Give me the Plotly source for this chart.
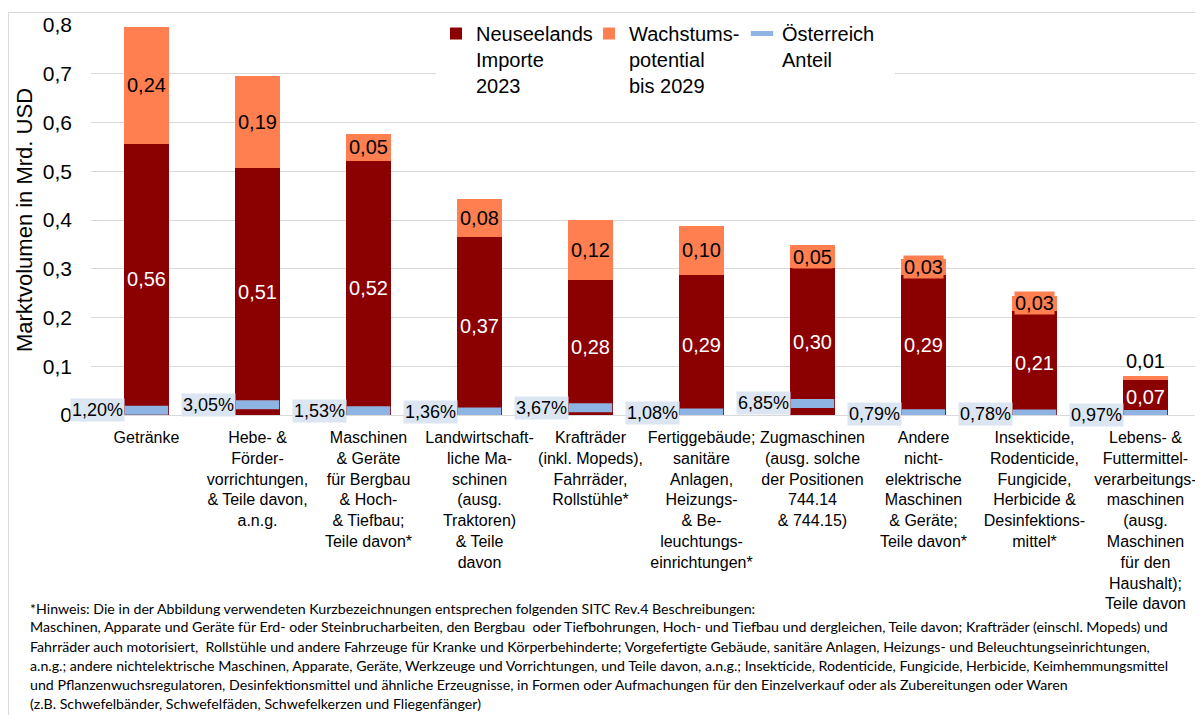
import plotly.graph_objects as go

categories = [
    "Getränke",
    "Hebe- &<br>Förder-<br>vorrichtungen,<br>& Teile davon,<br>a.n.g.",
    "Maschinen<br>& Geräte<br>für Bergbau<br>& Hoch-<br>& Tiefbau;<br>Teile davon*",
    "Landwirtschaft-<br>liche Ma-<br>schinen<br>(ausg.<br>Traktoren)<br>& Teile<br>davon",
    "Krafträder<br>(inkl. Mopeds),<br>Fahrräder,<br>Rollstühle*",
    "Fertiggebäude;<br>sanitäre<br>Anlagen,<br>Heizungs-<br>& Be-<br>leuchtungs-<br>einrichtungen*",
    "Zugmaschinen<br>(ausg. solche<br>der Positionen<br>744.14<br>& 744.15)",
    "Andere<br>nicht-<br>elektrische<br>Maschinen<br>& Geräte;<br>Teile davon*",
    "Insekticide,<br>Rodenticide,<br>Fungicide,<br>Herbicide &<br>Desinfektions-<br>mittel*",
    "Lebens- &<br>Futtermittel-<br>verarbeitungs-<br>maschinen<br>(ausg.<br>Maschinen<br>für den<br>Haushalt);<br>Teile davon",
]
imports_2023 = [0.556, 0.506, 0.522, 0.366, 0.277, 0.288, 0.301, 0.287, 0.214, 0.072]
growth_2029 = [0.240, 0.190, 0.054, 0.078, 0.122, 0.099, 0.047, 0.034, 0.031, 0.008]
austria_share_pct = [1.20, 3.05, 1.53, 1.36, 3.67, 1.08, 6.85, 0.79, 0.78, 0.97]

footnote_lines = [
    "*Hinweis: Die in der Abbildung verwendeten Kurzbezeichnungen entsprechen folgenden SITC Rev.4 Beschreibungen:",
    "Maschinen, Apparate und Geräte für Erd- oder Steinbrucharbeiten, den Bergbau  oder Tiefbohrungen, Hoch- und Tiefbau und dergleichen, Teile davon; Krafträder (einschl. Mopeds) und",
    "Fahrräder auch motorisiert,  Rollstühle und andere Fahrzeuge für Kranke und Körperbehinderte; Vorgefertigte Gebäude, sanitäre Anlagen, Heizungs- und Beleuchtungseinrichtungen,",
    "a.n.g.; andere nichtelektrische Maschinen, Apparate, Geräte, Werkzeuge und Vorrichtungen, und Teile davon, a.n.g.; Insekticide, Rodenticide, Fungicide, Herbicide, Keimhemmungsmittel",
    "und Pflanzenwuchsregulatoren, Desinfektionsmittel und ähnliche Erzeugnisse, in Formen oder Aufmachungen für den Einzelverkauf oder als Zubereitungen oder Waren",
    "(z.B. Schwefelbänder, Schwefelfäden, Schwefelkerzen und Fliegenfänger)",
]

DARK_RED = "#8B0000"
CORAL = "#FF7F50"
BLUE = "#8DB4E2"
LABEL_BG = "#DCE6F2"
GRID = "#D9D9D9"
FONT = "Liberation Sans, Arial, sans-serif"

# the page body adds an 8px offset; the figure is sized to fill the rest
OFF = 8
W, H = 1203 - OFF, 715 - OFF
ML, MR, MT, MB = 91 - OFF, 2, 25 - OFF, 300
PW, PH = W - ML - MR, H - MT - MB


def px_x(X):
    return (X - OFF - ML) / PW


def px_y(Y):
    return (H - MB - (Y - OFF)) / PH


def fmt(v):
    return f"{v:.2f}".replace(".", ",")


totals = [a + b for a, b in zip(imports_2023, growth_2029)]
austria_value = [s / 100 * t for s, t in zip(austria_share_pct, totals)]

fig = go.Figure()
fig.add_trace(go.Bar(
    x=categories, y=imports_2023, name="Neuseelands<br>Importe<br>2023",
    marker=dict(color=DARK_RED, line=dict(width=0)),
    text=[fmt(v) for v in imports_2023], textposition="inside",
    insidetextanchor="middle", textangle=0,
    textfont=dict(color="white", size=20, family=FONT),
))
fig.add_trace(go.Bar(
    x=categories, y=growth_2029, name="Wachstums-<br>potential<br>bis 2029",
    marker=dict(color=CORAL, line=dict(width=0)),
))
fig.add_trace(go.Scatter(
    x=categories, y=austria_value, name="Österreich<br>Anteil", mode="markers",
    marker=dict(symbol="line-ew", size=31, color=BLUE,
                line=dict(color=BLUE, width=9)),
))

# growth labels (with series-coloured box like the original)
for i, (c, a, g) in enumerate(zip(categories, imports_2023, growth_2029)):
    if i < len(categories) - 1:
        fig.add_annotation(
            x=c, y=a + g / 2, xref="x", yref="y", text=fmt(g), showarrow=False,
            xanchor="center", yanchor="middle", bgcolor=CORAL, borderpad=0,
            font=dict(size=20, color="black", family=FONT),
        )
    else:
        fig.add_annotation(
            x=c, y=a + g, xref="x", yref="y", text=fmt(g), showarrow=False,
            xanchor="center", yanchor="bottom", yshift=2,
            font=dict(size=20, color="black", family=FONT),
        )

for c, v, s in zip(categories, austria_value, austria_share_pct):
    fig.add_annotation(
        x=c, y=v, xref="x", yref="y", text=fmt(s) + "%", showarrow=False,
        xanchor="right", yanchor="middle", xshift=-22,
        bgcolor=LABEL_BG, borderpad=1,
        font=dict(size=18, color="black", family=FONT),
    )

for i, line in enumerate(footnote_lines):
    fig.add_annotation(
        x=px_x(28), y=px_y(608 + 19 * i), xref="paper", yref="paper",
        text=line, showarrow=False, xanchor="left", yanchor="middle",
        font=dict(size=14.2, color="black", family="Lato, Carlito, sans-serif"),
    )

fig.add_shape(type="rect", xref="paper", yref="paper",
              x0=px_x(8.5), x1=px_x(1250), y0=px_y(12.5), y1=px_y(800),
              line=dict(color=GRID, width=1), fillcolor="rgba(0,0,0,0)", layer="below")

fig.update_layout(
    width=W, height=H,
    margin=dict(l=ML, r=MR, t=MT, b=MB, autoexpand=False),
    barmode="stack", bargap=0.6,
    plot_bgcolor="white", paper_bgcolor="white",
    separators=", ",
    font=dict(family=FONT, color="black"),
    uniformtext=dict(minsize=20, mode="show"),
    showlegend=True,
    legend=dict(
        orientation="h", x=px_x(436), y=px_y(14), xanchor="left", yanchor="top",
        bgcolor="white", font=dict(size=20, family=FONT), valign="top",
        entrywidth=108, entrywidthmode="pixels", traceorder="normal",
        itemclick=False, tracegroupgap=0,
    ),
    xaxis=dict(
        range=[-0.5, len(categories) - 0.5],
        tickfont=dict(size=16, family=FONT), showgrid=False, ticks="",
        ticklabelstandoff=11, showline=False, automargin=False,
        tickangle=0,
    ),
    yaxis=dict(
        range=[0, 0.8], dtick=0.1, showgrid=True, gridcolor=GRID, gridwidth=1,
        zeroline=True, zerolinecolor=GRID, zerolinewidth=1,
        tickfont=dict(size=21, family=FONT), ticks="", ticklabelstandoff=18,
        title=dict(text="Marktvolumen in Mrd. USD", font=dict(size=22, family=FONT), standoff=4),
        automargin=False,
    ),
)

fig.write_html("out.html")
